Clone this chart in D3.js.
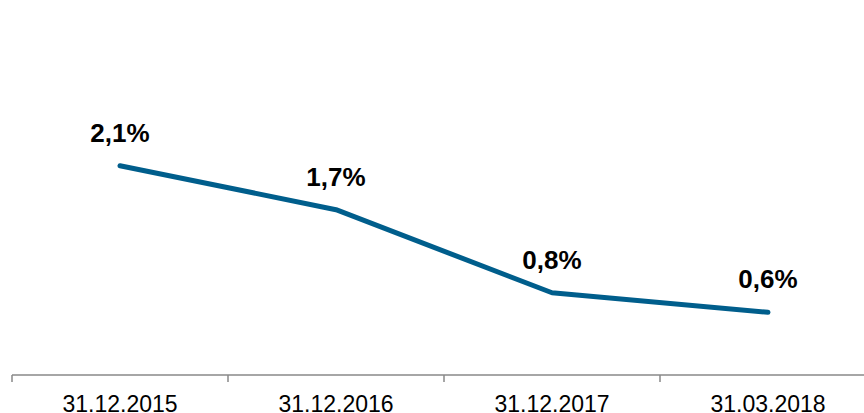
<!DOCTYPE html>
<html>
<head>
<meta charset="utf-8">
<script src="https://cdn.jsdelivr.net/npm/d3@7"></script>
<style>
  body { margin: 0; background: #fff; }
  svg { display: block; font-family: Arial, "Liberation Sans", sans-serif; }
</style>
</head>
<body>
<div id="container"></div>
<script>
/* DATA */
const dates = ["31.12.2015", "31.12.2016", "31.12.2017", "31.03.2018"];
const values = [2.1, 1.65, 0.8, 0.6];
const valueLabels = ["2,1%", "1,7%", "0,8%", "0,6%"];

/* CONSTANTS */
const width = 864, height = 413;
const axisY = 375;

const svg = d3.select("#container").append("svg")
  .attr("width", width)
  .attr("height", height);

/* SCALES */
// each date sits in a 216px band, first band starts at x=12
const xScale = d3.scaleBand()
  .domain(dates)
  .range([12, 12 + 216 * dates.length])
  .padding(0);

const yScale = d3.scaleLinear()
  .domain([0, 2.1])
  .range([371, 165.7]);

/* AXIS */
const axis = svg.append("g").attr("class", "x-axis");
axis.append("line")
  .attr("x1", xScale.range()[0])
  .attr("x2", width)
  .attr("y1", axisY)
  .attr("y2", axisY)
  .attr("stroke", "#888")
  .attr("stroke-width", 1.5);

axis.selectAll(".tick")
  .data(dates)
  .join("line")
  .attr("class", "tick")
  .attr("x1", d => xScale(d))
  .attr("x2", d => xScale(d))
  .attr("y1", axisY)
  .attr("y2", axisY + 7)
  .attr("stroke", "#888")
  .attr("stroke-width", 1.5);

axis.selectAll(".tick-label")
  .data(dates)
  .join("text")
  .attr("class", "tick-label")
  .attr("x", d => xScale(d) + xScale.bandwidth() / 2)
  .attr("y", 411.5)
  .attr("text-anchor", "middle")
  .attr("font-size", 23)
  .attr("fill", "#000")
  .text(d => d);

/* LINE */
const points = dates.map((d, i) => ({ date: d, value: values[i], label: valueLabels[i] }));

const line = d3.line()
  .x(d => xScale(d.date) + xScale.bandwidth() / 2)
  .y(d => yScale(d.value));

svg.append("path")
  .datum(points)
  .attr("d", line)
  .attr("fill", "none")
  .attr("stroke", "#005e8c")
  .attr("stroke-width", 5)
  .attr("stroke-linecap", "round")
  .attr("stroke-linejoin", "round");

/* VALUE LABELS */
svg.selectAll(".value-label")
  .data(points)
  .join("text")
  .attr("class", "value-label")
  .attr("x", d => xScale(d.date) + xScale.bandwidth() / 2)
  .attr("y", d => yScale(d.value) - 24)
  .attr("text-anchor", "middle")
  .attr("font-size", 26)
  .attr("font-weight", "bold")
  .attr("fill", "#000")
  .text(d => d.label);
</script>
</body>
</html>
